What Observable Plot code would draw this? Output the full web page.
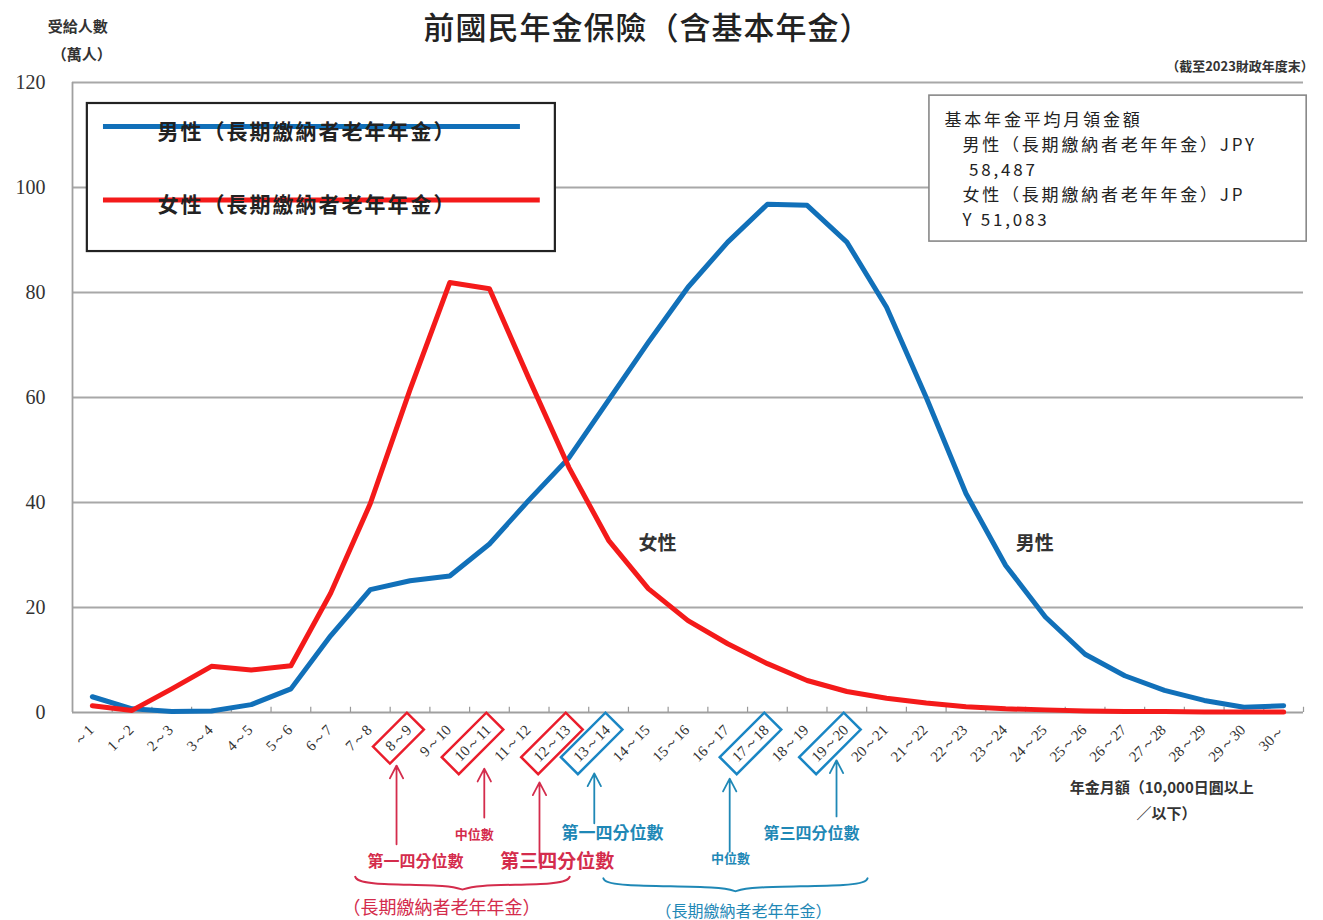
<!DOCTYPE html>
<html>
<head>
<meta charset="utf-8">
<script src="https://cdn.jsdelivr.net/npm/d3@7"></script>
<script src="https://cdn.jsdelivr.net/npm/@observablehq/plot@0.6"></script>
<style>
  html, body { margin: 0; padding: 0; background: #fff; }
  #chart { width: 1323px; height: 920px; }
</style>
</head>
<body>
<div id="chart"></div>
<script>
// ---------- data ----------
const categories = ["～1","1～2","2～3","3～4","4～5","5～6","6～7","7～8","8～9","9～10","10～11","11～12","12～13","13～14","14～15","15～16","16～17","17～18","18～19","19～20","20～21","21～22","22～23","23～24","24～25","25～26","26～27","27～28","28～29","29～30","30～"];
const male   = [3.0, 0.7, 0.2, 0.3, 1.5, 4.5, 14.6, 23.4, 25.1, 26.0, 32.1, 40.5, 48.5, 59.5, 70.5, 81.0, 89.6, 96.8, 96.6, 89.6, 77.2, 60.0, 41.7, 28.0, 18.2, 11.1, 7.0, 4.2, 2.3, 1.0, 1.3];
const female = [1.3, 0.4, 4.5, 8.8, 8.1, 8.9, 22.7, 39.8, 61.5, 81.9, 80.7, 63.5, 46.7, 32.8, 23.6, 17.5, 13.1, 9.3, 6.1, 4.0, 2.7, 1.8, 1.1, 0.7, 0.5, 0.3, 0.2, 0.2, 0.1, 0.1, 0.1];
const yTicks = [0, 20, 40, 60, 80, 100, 120];

const titleText = "前國民年金保險（含基本年金）";
const yLabel = ["受給人數", "（萬人）"];
const asOfText = "（截至2023財政年度末）";
const xLabel = ["年金月額（10,000日圓以上", "／以下）"];
const legendLabels = ["男性（長期繳納者老年年金）", "女性（長期繳納者老年年金）"];
const infoLines = ["基本年金平均月領金額", "男性（長期繳納者老年年金）JPY", " 58,487", "女性（長期繳納者老年年金）JP", "Y 51,083"];
const seriesNames = ["男性", "女性"];

// quartile annotations (female = red, male = blue)
const quartileCats = { female: ["8～9", "10～11", "12～13"], male: ["13～14", "17～18", "19～20"] };
const quartileNames = ["第一四分位數", "中位數", "第三四分位數"];
const groupCaption = "（長期繳納者老年年金）";

// annotation anchors (category index units / value units)
const arrowX = { female: [7.66, 9.87, 11.26], male: [12.64, 16.05, 18.74] };
const arrowY1 = { female: [-25.1, -20, -28.6], male: [-21.1, -26.5, -19.8] };
const arrowY2 = { female: [-10.1, -10.7, -13.3], male: [-11.6, -12.6, -9.1] };
const qTextX = { female: [8.14, 9.62, 11.71], male: [13.1, 16.07, 18.11] };
const qTextY = { female: [-28.4, -23.3, -28.4], male: [-23.1, -27.8, -23.1] };
const qTextSize = { female: [16, 13, 19], male: [17, 13, 16] };
const braceSpan = { female: [6.62, 12.02, -32.8], male: [12.87, 19.52, -33.1] };
const captionPos = { female: [8.79, -37.2, 18], male: [16.4, -38.0, 16] };

// ---------- helpers ----------
const CJK = "'Noto Sans CJK TC', 'Noto Sans CJK JP', sans-serif";
const SERIF = "'Liberation Serif', 'DejaVu Serif', serif";
const BLUE = "#1170b9", RED = "#f41a1a";
const ANN_RED = "#d42c4c", ANN_BLUE = "#1f88b6";
const BOX_RED = "#ea1d2c", BOX_BLUE = "#1a86c4";

const idx = c => categories.indexOf(c);
const rows = arr => arr.map((v, i) => ({ i, v }));

function rotRect(a, b) {
  const c = Math.SQRT1_2;
  return {
    draw(ctx) {
      const pts = [[-a/2,-b/2],[a/2,-b/2],[a/2,b/2],[-a/2,b/2]].map(([p,q]) => [p*c + q*c, -p*c + q*c]);
      ctx.moveTo(pts[0][0], pts[0][1]);
      for (let k = 1; k < 4; k++) ctx.lineTo(pts[k][0], pts[k][1]);
      ctx.closePath();
    }
  };
}
function labelLen(s) { return s.length === 3 ? 30 : 45; }

function braceRows(key) {
  const [x1, x2, y] = braceSpan[key];
  const xm = (x1 + x2) / 2, h = 1.5, t = 1.4, e = 0.12;
  return [[x1, y + h], [x1 + e, y], [xm - e, y], [xm, y - t], [xm + e, y], [x2 - e, y], [x2, y + h]].map(([x, yy]) => ({ x, y: yy, key }));
}

// ---------- marks ----------
const marks = [];

// grid + frame
marks.push(Plot.ruleY(yTicks.filter(d => d > 0), { stroke: "#a8a8a8", strokeWidth: 1.8 }));
marks.push(Plot.ruleY([0], { stroke: "#a0a0a0", strokeWidth: 2 }));
marks.push(Plot.ruleX([-0.5], { y1: 0, y2: 120, stroke: "#a0a0a0", strokeWidth: 1.8 }));
marks.push(Plot.ruleX(d3.range(categories.length).map(i => i + 0.5), { y1: 0, y2: 1, stroke: "#999", strokeWidth: 1.2 }));

// y tick labels
marks.push(Plot.text(yTicks, { x: -0.5, y: d => d, text: d => String(d), textAnchor: "end", dx: -27, fontFamily: SERIF, fontSize: 20, fill: "#333" }));

// x tick labels
marks.push(Plot.text(categories, { x: (d, i) => i, y: 0, text: d => d, rotate: -45, textAnchor: "end", dx: -1, dy: 15, fontFamily: SERIF, fontSize: 15, fill: "#333" }));

// data lines
marks.push(Plot.line(rows(male), { x: "i", y: "v", stroke: BLUE, strokeWidth: 5, strokeLinejoin: "round" }));
marks.push(Plot.line(rows(female), { x: "i", y: "v", stroke: RED, strokeWidth: 5, strokeLinejoin: "round" }));

// series labels in plot
marks.push(Plot.text([{ x: 14.23, y: 32.2, t: seriesNames[1] }, { x: 23.73, y: 32.2, t: seriesNames[0] }], { x: "x", y: "y", text: "t", fontFamily: CJK, fontSize: 19, fontWeight: "bold", fill: "#333" }));

// quartile boxes, arrows, texts
for (const key of ["female", "male"]) {
  const boxColor = key === "female" ? BOX_RED : BOX_BLUE;
  const annColor = key === "female" ? ANN_RED : ANN_BLUE;
  quartileCats[key].forEach(cat => {
    const L = labelLen(cat);
    const off = (L / 2) * Math.SQRT1_2;
    marks.push(Plot.dot([cat], { x: d => idx(d), y: 0, dx: -1 - off, dy: 15 + off, symbol: rotRect(L + 18, 24), fill: "none", stroke: boxColor, strokeWidth: 2.5 }));
  });
  marks.push(Plot.arrow(d3.range(3), {
    x1: i => arrowX[key][i], x2: i => arrowX[key][i],
    y1: i => arrowY1[key][i], y2: i => arrowY2[key][i],
    stroke: annColor, strokeWidth: 1.8, headLength: 12, headAngle: 55
  }));
  marks.push(Plot.text(d3.range(3), {
    x: i => qTextX[key][i], y: i => qTextY[key][i], text: i => quartileNames[i],
    fontSize: i => qTextSize[key][i], fontFamily: CJK, fontWeight: "bold", fill: annColor
  }));
  marks.push(Plot.line(braceRows(key), { x: "x", y: "y", stroke: annColor, strokeWidth: 2, curve: "basis" }));
  marks.push(Plot.text([groupCaption], { x: captionPos[key][0], y: captionPos[key][1], text: d => d, fontSize: captionPos[key][2], fontFamily: CJK, fill: annColor }));
}

// x-axis label
marks.push(Plot.text(xLabel, { x: (d, i) => [26.93, 27.05][i], y: (d, i) => [-14.5, -19.3][i], text: d => d, fontFamily: CJK, fontSize: 15, fontWeight: "bold", fill: "#333" }));

// legend box
marks.push(Plot.rect([{ x1: -0.126, x2: 11.66, y1: 87.8, y2: 116 }], { x1: "x1", x2: "x2", y1: "y1", y2: "y2", fill: "white", stroke: "#222", strokeWidth: 2.2 }));
marks.push(Plot.ruleY([{ y: 111.6, x1: 0.28, x2: 10.78, c: BLUE }, { y: 97.6, x1: 0.28, x2: 11.28, c: RED }], { y: "y", x1: "x1", x2: "x2", stroke: "c", strokeWidth: 5 }));
marks.push(Plot.text(legendLabels, { x: 1.64, y: (d, i) => [110.5, 96.7][i], text: d => d, textAnchor: "start", fontFamily: CJK, fontSize: 21, fontWeight: "bold", fill: "#222" }));

// info box
marks.push(Plot.rect([{ x1: 21.08, x2: 30.58, y1: 89.7, y2: 117.5 }], { x1: "x1", x2: "x2", y1: "y1", y2: "y2", fill: "white", stroke: "#888", strokeWidth: 1.6 }));
marks.push(Plot.text(infoLines, {
  x: (d, i) => [21.46, 21.91, 21.91, 21.91, 21.91][i],
  y: (d, i) => [112.76, 108.0, 103.24, 98.48, 93.71][i],
  text: d => d, textAnchor: "start", fontFamily: CJK, fontSize: 17, fill: "#222"
}));

// titles
marks.push(Plot.text([titleText], { x: 13.98, y: 130.2, text: d => d, fontFamily: CJK, fontSize: 31, fontWeight: 500, fill: "#222" }));
marks.push(Plot.text(yLabel, { x: (d, i) => [-0.37, -0.27][i], y: (d, i) => [130.5, 125.2][i], text: d => d, fontFamily: CJK, fontSize: 15, fontWeight: "bold", fill: "#333" }));
marks.push(Plot.text([asOfText], { x: 30.76, y: 123, text: d => d, textAnchor: "end", fontFamily: CJK, fontSize: 13, fontWeight: "bold", fill: "#333" }));

const chart = Plot.plot({
  width: 1323,
  height: 920,
  marginTop: 82,
  marginBottom: 208,
  marginLeft: 72,
  marginRight: 20,
  x: { type: "linear", domain: [-0.5, 30.5], axis: null },
  y: { type: "linear", domain: [0, 120], axis: null },
  style: { background: "white", fontFamily: CJK, overflow: "visible" },
  marks
});
document.getElementById("chart").appendChild(chart);

// letter spacing tweaks to match the reference's wider text
const spacing = new Map([
  ...legendLabels.map(t => [t, "2px"]),
  ...infoLines.map(t => [t, "2.8px"]),
  [titleText, "1px"]
]);
d3.select(chart).selectAll("text").each(function () {
  const s = spacing.get(this.textContent);
  if (s) this.style.letterSpacing = s;
});
</script>
</body>
</html>
